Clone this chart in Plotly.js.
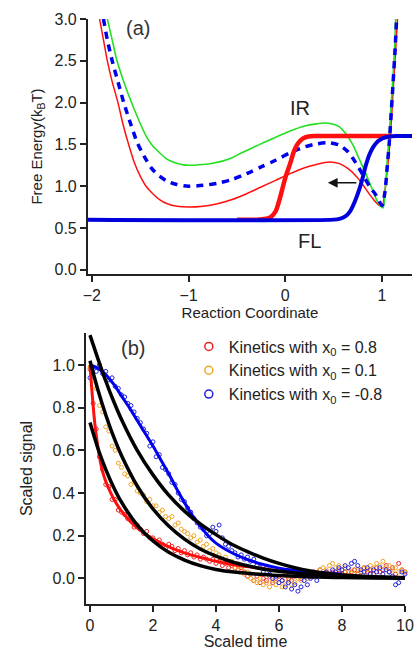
<!DOCTYPE html>
<html>
<head>
<meta charset="utf-8">
<script src="https://cdn.plot.ly/plotly-3.0.1.min.js"></script>
<style>html,body{margin:0;padding:0;background:#fff;}#chart{width:415px;height:650px;}</style>
</head>
<body>
<div id="chart"></div>
<script>
// ---------- Panel (a): free energy curves ----------
const redPotX = [-1.92,-1.88,-1.84,-1.79,-1.73,-1.68,-1.62,-1.56,-1.50,-1.44,-1.37,-1.30,-1.22,-1.12,-1.00,-0.85,-0.70,-0.55,-0.40,-0.25,-0.10,0.05,0.20,0.32,0.46,0.56,0.65,0.74,0.80,0.86,0.92,0.97,1.00,1.03,1.06,1.08,1.10,1.12,1.14,1.16];
const redPotY = [3.00,2.75,2.50,2.25,2.00,1.75,1.50,1.28,1.12,1.00,0.91,0.84,0.79,0.76,0.75,0.76,0.79,0.84,0.91,0.99,1.07,1.15,1.22,1.26,1.29,1.27,1.21,1.11,1.02,0.92,0.83,0.77,0.76,0.95,1.25,1.50,1.85,2.25,2.62,3.00];

const greenPotX = [-1.84,-1.79,-1.74,-1.67,-1.59,-1.50,-1.43,-1.37,-1.30,-1.22,-1.14,-1.05,-1.00,-0.85,-0.75,-0.65,-0.55,-0.45,-0.30,-0.13,0.05,0.20,0.32,0.42,0.50,0.56,0.63,0.70,0.77,0.84,0.90,0.96,1.01,1.03,1.05,1.07,1.09,1.11,1.13,1.14];
const greenPotY = [3.00,2.75,2.50,2.25,2.00,1.75,1.58,1.48,1.40,1.32,1.28,1.255,1.25,1.26,1.275,1.30,1.34,1.40,1.48,1.57,1.66,1.72,1.745,1.755,1.74,1.71,1.62,1.49,1.31,1.13,0.96,0.80,0.74,0.92,1.25,1.55,1.90,2.25,2.65,3.00];

const bluePotX = [-1.88,-1.84,-1.79,-1.73,-1.67,-1.60,-1.53,-1.46,-1.38,-1.30,-1.22,-1.12,-1.00,-0.85,-0.70,-0.55,-0.40,-0.25,-0.10,0.05,0.20,0.32,0.45,0.56,0.65,0.70,0.76,0.81,0.87,0.94,1.00,1.03,1.055,1.075,1.095,1.115,1.135,1.15];
const bluePotY = [3.00,2.75,2.50,2.25,2.00,1.75,1.52,1.36,1.21,1.12,1.06,1.02,1.00,1.01,1.035,1.08,1.15,1.23,1.31,1.40,1.47,1.505,1.52,1.49,1.41,1.33,1.22,1.12,1.00,0.89,0.77,0.93,1.25,1.52,1.88,2.25,2.63,3.00];

const redPopX = [-0.50,-0.30,-0.20,-0.15,-0.10,-0.06,0.00,0.05,0.09,0.13,0.18,0.24,0.32,1.10];
const redPopY = [0.60,0.60,0.61,0.63,0.70,0.84,1.10,1.27,1.42,1.51,1.57,1.595,1.60,1.60];

const bluePopX = [-2.04,0.50,0.56,0.62,0.67,0.72,0.77,0.80,0.83,0.87,0.91,0.96,1.01,1.08,1.15,1.31];
const bluePopY = [0.60,0.60,0.61,0.64,0.70,0.82,0.98,1.10,1.24,1.38,1.47,1.54,1.575,1.595,1.60,1.60];

const energyTicks = [0,0.5,1,1.5,2,2.5,3];
const coordTicks = [-2,-1,0,1];

// ---------- Panel (b): kinetics ----------
const tData = [0,0.1,0.2,0.3,0.4,0.5,0.6,0.7,0.8,0.9,
  1,1.1,1.2,1.3,1.4,1.5,1.6,1.7,1.8,1.9,
  2,2.1,2.2,2.3,2.4,2.5,2.6,2.7,2.8,2.9,
  3,3.1,3.2,3.3,3.4,3.5,3.6,3.7,3.8,3.9,
  4,4.1,4.2,4.3,4.4,4.5,4.6,4.7,4.8,4.9,
  5,5.1,5.2,5.3,5.4,5.5,5.6,5.7,5.8,5.9,
  6,6.1,6.2,6.3,6.4,6.5,6.6,6.7,6.8,6.9,
  7,7.1,7.2,7.3,7.4,7.5,7.6,7.7,7.8,7.9,
  8,8.1,8.2,8.3,8.4,8.5,8.6,8.7,8.8,8.9,
  9,9.1,9.2,9.3,9.4,9.5,9.6,9.7,9.8,9.9,10];

const redKin = [0.98,0.82,0.70,0.57,0.51,0.44,0.43,0.37,0.37,0.32,
  0.31,0.30,0.28,0.27,0.24,0.25,0.23,0.21,0.22,0.19,
  0.19,0.17,0.18,0.16,0.14,0.16,0.15,0.13,0.14,0.12,
  0.13,0.11,0.12,0.10,0.11,0.09,0.10,0.09,0.08,0.09,
  0.07,0.08,0.06,0.07,0.05,0.06,0.05,0.04,0.05,0.03,
  0.01,0.02,-0.01,0.01,-0.02,0.00,-0.01,0.01,-0.02,0.00,
  0.01,-0.01,0.02,0.00,-0.01,0.01,0.02,0.00,0.01,0.02,
  0.01,0.03,0.02,0.04,0.02,0.03,0.01,0.03,0.02,0.04,
  0.02,0.03,0.01,0.03,0.04,0.02,0.03,0.05,0.03,0.04,
  0.02,0.05,0.03,0.04,0.06,0.03,0.05,0.02,0.07,0.04,0.03];

const orangeKin = [0.99,0.93,0.89,0.81,0.78,0.71,0.69,0.62,0.60,0.54,
  0.52,0.49,0.48,0.44,0.45,0.41,0.40,0.39,0.36,0.37,
  0.34,0.34,0.31,0.32,0.29,0.28,0.29,0.25,0.26,0.23,
  0.22,0.21,0.19,0.20,0.17,0.18,0.15,0.16,0.13,0.14,
  0.12,0.11,0.09,0.10,0.07,0.08,0.05,0.06,0.04,0.02,
  0.03,0.00,-0.01,-0.02,0.00,-0.03,-0.02,-0.04,-0.01,-0.03,
  -0.02,-0.04,-0.03,-0.01,-0.03,-0.02,0.00,-0.01,0.01,0.00,
  0.02,0.03,0.02,0.04,0.05,0.04,0.06,0.07,0.05,0.06,
  0.04,0.05,0.03,0.04,0.02,0.04,0.03,0.05,0.04,0.06,
  0.05,0.07,0.06,0.08,0.05,0.06,0.04,0.05,0.03,0.04,0.03];

const blueKin = [0.94,0.99,0.97,1.00,0.96,0.97,0.93,0.94,0.90,0.89,
  0.86,0.85,0.82,0.81,0.78,0.75,0.73,0.70,0.68,0.62,
  0.64,0.57,0.58,0.52,0.51,0.49,0.45,0.44,0.40,0.37,
  0.36,0.33,0.31,0.28,0.26,0.24,0.23,0.20,0.21,0.24,
  0.22,0.25,0.19,0.16,0.15,0.13,0.12,0.10,0.11,0.09,
  0.10,0.08,0.09,0.06,0.05,0.03,0.05,0.02,0.00,0.01,
  -0.02,-0.01,-0.04,-0.02,-0.05,-0.03,-0.06,-0.04,-0.01,-0.03,
  0.00,0.01,-0.01,0.02,0.01,0.03,0.02,0.04,0.03,0.05,
  0.04,0.06,0.05,0.07,0.08,0.06,0.04,0.03,0.05,0.02,
  0.04,0.03,0.05,0.02,0.04,0.03,0.01,-0.03,-0.02,0.03,0.02];

const tRedLine = [0,0.05,0.1,0.15,0.2,0.3,0.4,0.5,0.6,0.8,1.0,1.2,1.4,1.6,1.8,2.0,2.4,2.8,3.2,3.6,4.0,4.5,5,6,7,8];
const redLine = [1.0,0.90,0.81,0.73,0.67,0.57,0.50,0.455,0.42,0.36,0.315,0.28,0.25,0.225,0.205,0.185,0.155,0.13,0.11,0.095,0.08,0.065,0.055,0.035,0.022,0.014];

const tBlueLine = [0,0.25,0.5,0.75,1,1.25,1.5,1.75,2,2.25,2.5,2.75,3,3.25,3.5,3.75,4,4.5,5,5.5,6,7,8];
const blueLine = [1.0,0.985,0.955,0.91,0.855,0.80,0.74,0.68,0.62,0.555,0.49,0.42,0.355,0.295,0.245,0.2,0.165,0.12,0.088,0.065,0.048,0.03,0.02];

const tFit = [0,0.25,0.5,0.75,1,1.5,2,2.5,3,3.5,4,4.5,5,5.5,6,6.5,7,7.5,8,9,10];
const fitBlue = [1.14,1.03,0.925,0.83,0.745,0.60,0.485,0.39,0.315,0.255,0.205,0.16,0.125,0.095,0.07,0.05,0.035,0.024,0.016,0.008,0.003];
const fitOrange = [1.02,0.884,0.767,0.664,0.576,0.433,0.325,0.245,0.184,0.138,0.104,0.078,0.059,0.044,0.033,0.025,0.019,0.014,0.011,0.006,0.003];
const fitRed = [0.73,0.61,0.511,0.427,0.357,0.25,0.175,0.122,0.086,0.06,0.042,0.031,0.024,0.018,0.013,0.010,0.007,0.005,0.004,0.002,0.001];

const legendNames = ['Kinetics with x<sub>0</sub> = 0.8','Kinetics with x<sub>0</sub> = 0.1','Kinetics with x<sub>0</sub> = -0.8'];
const signalTicks = [0,0.2,0.4,0.6,0.8,1.0];
const timeTicks = [0,2,4,6,8,10];

const RED = '#ff1010', GREEN = '#22e022', BLUE = '#0000ee';
const mRed = '#ee2222', mOrange = '#f2a524', mBlue = '#2222dd';

function line(x, y, color, width, extra) {
  return Object.assign({x: x, y: y, mode: 'lines', type: 'scatter', showlegend: false, hoverinfo: 'skip',
    line: {color: color, width: width, shape: 'spline', smoothing: 0.8}, xaxis: 'x', yaxis: 'y'}, extra || {});
}
function pts(x, y, color) {
  return {x: x, y: y, mode: 'markers', type: 'scatter', showlegend: false, cliponaxis: false,
    marker: {symbol: 'circle-open', size: 4, color: color, line: {width: 1, color: color}}, xaxis: 'x2', yaxis: 'y2'};
}
const b2 = {xaxis: 'x2', yaxis: 'y2', cliponaxis: false};

const traces = [
  line(redPotX, redPotY, RED, 1.5),
  line(greenPotX, greenPotY, GREEN, 1.6),
  line(bluePotX, bluePotY, BLUE, 3.5, {line: {color: BLUE, width: 3.5, dash: '7px,6px', shape: 'spline', smoothing: 0.8}}),
  line(redPopX, redPopY, RED, 4.5),
  line(bluePopX, bluePopY, '#0000dd', 4),
  pts(tData, redKin, mRed),
  pts(tData, orangeKin, mOrange),
  pts(tData, blueKin, mBlue),
  line(tRedLine, redLine, RED, 3, b2),
  line(tBlueLine, blueLine, BLUE, 3, b2),
  line(tFit, fitBlue, '#000', 3.5, b2),
  line(tFit, fitOrange, '#000', 3.5, b2),
  line(tFit, fitRed, '#000', 3.5, b2)
];
// legend-only entries (no data drawn)
[mRed, mOrange, mBlue].forEach(function (c, i) {
  traces.push({x: [null], y: [null], mode: 'markers', type: 'scatter', name: legendNames[i], xaxis: 'x2', yaxis: 'y2',
    marker: {symbol: 'circle-open', size: 8, color: c, line: {width: 1.5, color: c}}});
});

const axisCommon = {showline: true, linecolor: '#222', linewidth: 2, ticks: 'outside', ticklen: 6, tickwidth: 2,
  tickcolor: '#222', showgrid: false, zeroline: false, automargin: false, tickfont: {size: 16, color: '#222'}};

const layout = {
  width: 415, height: 650,
  margin: {l: 0, r: 0, t: 0, b: 0},
  paper_bgcolor: '#fff', plot_bgcolor: '#fff',
  font: {family: 'Liberation Sans, Arial, sans-serif', size: 16, color: '#222'},
  showlegend: true,
  legend: {x: 0.455, y: 0.493, xanchor: 'left', yanchor: 'top', bgcolor: 'rgba(0,0,0,0)',
    font: {size: 16, color: '#222'}, tracegroupgap: 0, itemwidth: 30},
  xaxis: Object.assign({}, axisCommon, {domain: [0.2120, 0.9928], range: [-2.04, 1.31], tickvals: coordTicks, anchor: 'y',
    title: {text: 'Reaction Coordinate', font: {size: 15, color: '#222'}, standoff: 2}}),
  yaxis: Object.assign({}, axisCommon, {domain: [0.5785, 0.9708], range: [-0.05, 3.0], tickvals: energyTicks, tickformat: '.1f', anchor: 'x',
    title: {text: 'Free Energy(k<sub>B</sub>T)', font: {size: 15, color: '#222'}, standoff: 8}}),
  xaxis2: Object.assign({}, axisCommon, {domain: [0.2072, 0.9759], range: [-0.127, 10.0], tickvals: timeTicks, anchor: 'y2',
    title: {text: 'Scaled time', font: {size: 16, color: '#222'}, standoff: 2}}),
  yaxis2: Object.assign({}, axisCommon, {domain: [0.0708, 0.4877], range: [-0.12, 1.15], tickvals: signalTicks, tickformat: '.1f', anchor: 'x2',
    title: {text: 'Scaled signal', font: {size: 16, color: '#222'}, standoff: 16}}),
  annotations: [
    {text: '(a)', x: -1.52, y: 2.89, xref: 'x', yref: 'y', showarrow: false, font: {size: 20, color: '#333'}},
    {text: 'IR', x: 0.15, y: 1.94, xref: 'x', yref: 'y', showarrow: false, font: {size: 20, color: '#222'}},
    {text: 'FL', x: 0.25, y: 0.35, xref: 'x', yref: 'y', showarrow: false, font: {size: 20, color: '#222'}},
    {text: '', x: 0.44, y: 1.04, ax: 0.75, ay: 1.04, xref: 'x', yref: 'y', axref: 'x', ayref: 'y',
      showarrow: true, arrowhead: 2, arrowsize: 1.3, arrowwidth: 1.5, arrowcolor: '#111'},
    {text: '(b)', x: 1.37, y: 1.08, xref: 'x2', yref: 'y2', showarrow: false, font: {size: 20, color: '#333'}}
  ]
};

Plotly.newPlot('chart', traces, layout, {displayModeBar: false, staticPlot: true});
</script>
</body>
</html>
